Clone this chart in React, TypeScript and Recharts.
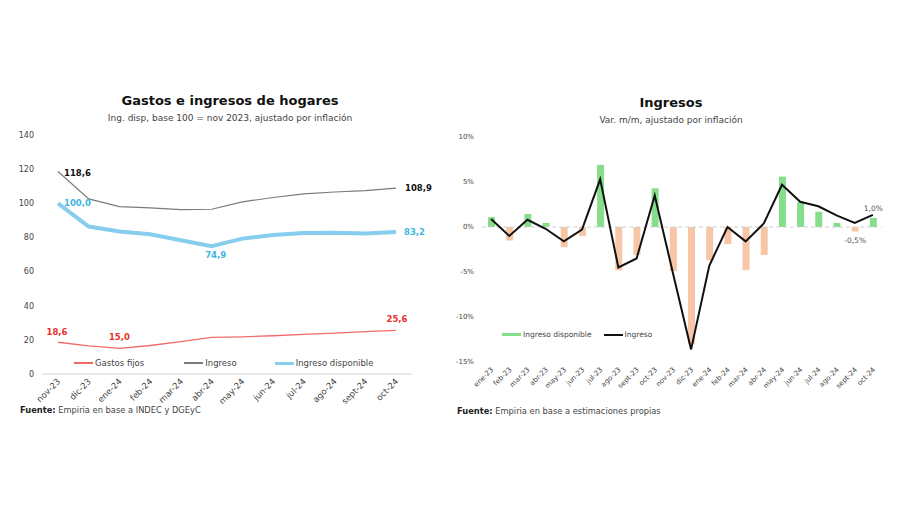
import React from 'react';
import {
  Bar,
  Cell,
  ComposedChart,
  LabelList,
  Legend,
  Line,
  LineChart,
  ReferenceLine,
  XAxis,
  YAxis,
} from 'recharts';

// gastos e ingresos de hogares (base 100 = nov 2023)
const mesesHogares = ['nov-23', 'dic-23', 'ene-24', 'feb-24', 'mar-24', 'abr-24', 'may-24', 'jun-24', 'jul-24', 'ago-24', 'sept-24', 'oct-24'];
const gastosFijos = [18.6, 16.5, 15.0, 16.7, 19.0, 21.4, 21.8, 22.4, 23.2, 24.0, 24.8, 25.6];
const ingreso = [118.6, 102.6, 98.1, 97.3, 96.3, 96.5, 100.8, 103.4, 105.5, 106.6, 107.4, 108.9];
const ingresoDisp = [100.0, 86.4, 83.5, 81.8, 78.4, 74.9, 79.3, 81.4, 82.6, 82.8, 82.3, 83.2];
const ticksHogares = [0, 20, 40, 60, 80, 100, 120, 140];

// ingresos var. m/m
const mesesVar = ['ene-23', 'feb-23', 'mar-23', 'abr-23', 'may-23', 'jun-23', 'jul-23', 'ago-23', 'sept-23', 'oct-23', 'nov-23', 'dic-23', 'ene-24', 'feb-24', 'mar-24', 'abr-24', 'may-24', 'jun-24', 'jul-24', 'ago-24', 'sept-24', 'oct-24'];
const ingresoDispVar = [1.1, -1.5, 1.45, 0.45, -2.25, -1.0, 6.9, -4.8, -3.1, 4.3, -4.9, -13.0, -3.7, -1.9, -4.8, -3.1, 5.6, 2.75, 1.7, 0.45, -0.5, 1.0];
const ingresoVar = [0.9, -1.0, 0.8, -0.2, -1.6, -0.3, 5.3, -4.5, -3.5, 3.5, -5.1, -13.6, -4.3, 0.0, -1.6, 0.4, 4.7, 2.8, 2.3, 1.3, 0.45, 1.35];
const ticksVar = [-15, -10, -5, 0, 5, 10];
const labeledVar = [20, 21];

const hogaresData = mesesHogares.map((m, i) => ({
  mes: m,
  gastos: gastosFijos[i],
  ingreso: ingreso[i],
  disp: ingresoDisp[i],
}));

const varData = mesesVar.map((m, i) => ({
  mes: m,
  disp: ingresoDispVar[i],
  ingreso: ingresoVar[i],
}));

const FONT = '"DejaVu Sans", Verdana, sans-serif';
const RED = '#f26a6a';
const RED_TXT = '#e8312b';
const GRAY = '#7a7a7a';
const BLUE = '#86cdee';
const BLUE_TXT = '#41b5e6';
const GREEN = '#86de8c';
const SALMON = '#f7c6a6';

const fmt = (v: number) => v.toFixed(1).replace('.', ',');

const RotTick = (fontSize: number) => (props: any) => {
  const { x, y, payload } = props;
  return (
    <g transform={`translate(${x},${y})`}>
      <text x={0} y={0} dx={2} dy={2} textAnchor="end" transform="rotate(-45)" fontSize={fontSize} fill="#444" fontFamily={FONT}>
        {payload.value}
      </text>
    </g>
  );
};

// label placement per point index: [dx, dy, anchor]
type Spot = Record<number, [number, number, string]>;
const pointLabel = (spots: Spot, color: string) => (props: any) => {
  const { x, y, value, index } = props;
  const s = spots[index];
  if (!s) return null;
  return (
    <text x={x + s[0]} y={y + s[1]} textAnchor={s[2] as any} fontSize={8.5} fontWeight="bold" fill={color} fontFamily={FONT} dominantBaseline="central">
      {fmt(value)}
    </text>
  );
};

const barLabel = (props: any) => {
  const { x, y, width, height, value, index } = props;
  if (!labeledVar.includes(index)) return null;
  const top = Math.min(y, y + height);
  const bottom = Math.max(y, y + height);
  const cy = value >= 0 ? top - 10 : bottom + 9;
  return (
    <text x={x + width / 2} y={cy} textAnchor="middle" dominantBaseline="central" fontSize={7.5} fill="#555" fontFamily={FONT}>
      {fmt(value)}%
    </text>
  );
};

const LegendItems = (items: { name: string; color: string; w: number; gap: number }[], fontSize: number) => () => (
  <div style={{ display: 'flex', alignItems: 'center', fontFamily: FONT, fontSize, color: '#444', whiteSpace: 'nowrap' }}>
    {items.map((it) => (
      <div key={it.name} style={{ display: 'flex', alignItems: 'center', marginRight: it.gap }}>
        <span style={{ display: 'inline-block', width: 19, height: it.w, background: it.color, marginRight: 2 }} />
        <span>{it.name}</span>
      </div>
    ))}
  </div>
);

const Title = ({ cx, y, text, sub }: { cx: number; y: number; text: string; sub: string }) => (
  <>
    <div style={{ position: 'absolute', left: cx - 200, width: 400, top: y - 9, lineHeight: '18px', textAlign: 'center', fontFamily: FONT, fontWeight: 'bold', fontSize: 13, color: '#111' }}>
      {text}
    </div>
    <div style={{ position: 'absolute', left: cx - 200, width: 400, top: y + 10, lineHeight: '14px', textAlign: 'center', fontFamily: FONT, fontSize: 9, color: '#444' }}>
      {sub}
    </div>
  </>
);

const Fuente = ({ x, y, text }: { x: number; y: number; text: string }) => (
  <div style={{ position: 'absolute', left: x, top: y - 7, lineHeight: '14px', fontFamily: FONT, fontSize: 8.3, color: '#444', whiteSpace: 'nowrap' }}>
    <b style={{ color: '#222' }}>Fuente:</b> {text}
  </div>
);

export default function App() {
  return (
    <div style={{ position: 'absolute', left: 0, top: 0, width: 900, height: 505, background: '#fff', overflow: 'hidden' }}>
      <Title cx={230} y={101} text="Gastos e ingresos de hogares" sub="Ing. disp, base 100 = nov 2023, ajustado por inflación" />
      <Title cx={671} y={103} text="Ingresos" sub="Var. m/m, ajustado por inflación" />

      <div style={{ position: 'absolute', left: 0, top: 0 }}>
        <LineChart width={450} height={430} data={hogaresData} margin={{ top: 135, right: 38, bottom: 16, left: 12 }}>
          <XAxis dataKey="mes" interval={0} height={40} tickLine={false} axisLine={{ stroke: '#d4d4d4' }} padding={{ left: 16, right: 16 }} tick={RotTick(8.5)} />
          <YAxis domain={[0, 140]} ticks={ticksHogares} width={30} tickLine={false} axisLine={false} tick={{ fontSize: 8, fill: '#444', fontFamily: FONT }} />
          <Legend
            verticalAlign="middle"
            align="center"
            content={LegendItems([
              { name: 'Gastos fijos', color: RED, w: 1.5, gap: 40 },
              { name: 'Ingreso', color: GRAY, w: 1.5, gap: 38 },
              { name: 'Ingreso disponible', color: BLUE, w: 3, gap: 0 },
            ], 8.5)}
            wrapperStyle={{ left: 74, top: 358, width: 320, height: 14 }}
          />
          <Line dataKey="gastos" stroke={RED} strokeWidth={1.3} dot={false} isAnimationActive={false}>
            <LabelList dataKey="gastos" content={pointLabel({ 0: [-1, -10, 'middle'], 2: [0, -11, 'middle'], 11: [1, -11, 'middle'] }, RED_TXT)} />
          </Line>
          <Line dataKey="ingreso" stroke={GRAY} strokeWidth={1.2} dot={false} isAnimationActive={false}>
            <LabelList dataKey="ingreso" content={pointLabel({ 0: [6, 1, 'start'], 11: [9, 0, 'start'] }, '#111')} />
          </Line>
          <Line dataKey="disp" stroke={BLUE} strokeWidth={4} dot={false} isAnimationActive={false}>
            <LabelList dataKey="disp" content={pointLabel({ 0: [6, 0, 'start'], 5: [4, 9, 'middle'], 11: [8, 0, 'start'] }, BLUE_TXT)} />
          </Line>
        </LineChart>
      </div>

      <div style={{ position: 'absolute', left: 440, top: 0 }}>
        <ComposedChart width={460} height={430} data={varData} margin={{ top: 137, right: 18, bottom: 28, left: 12 }}>
          <XAxis dataKey="mes" interval={0} height={40} tickLine={false} axisLine={false} tick={RotTick(7)} />
          <YAxis domain={[-15, 10]} ticks={ticksVar} width={30} tickLine={false} axisLine={false} tickFormatter={(v: number) => `${v}%`} tick={{ fontSize: 7, fill: '#444', fontFamily: FONT }} />
          <ReferenceLine y={0} stroke="#cfcfcf" strokeDasharray="4 3" />
          <Legend
            verticalAlign="middle"
            align="center"
            content={LegendItems([
              { name: 'Ingreso disponible', color: GREEN, w: 3, gap: 12 },
              { name: 'Ingreso', color: '#111', w: 2, gap: 0 },
            ], 7.5)}
            wrapperStyle={{ left: 62, top: 330, width: 200, height: 14 }}
          />
          <Bar dataKey="disp" barSize={7} isAnimationActive={false}>
            {varData.map((d, i) => (
              <Cell key={i} fill={d.disp >= 0 ? GREEN : SALMON} />
            ))}
            <LabelList dataKey="disp" content={barLabel} />
          </Bar>
          <Line dataKey="ingreso" stroke="#111" strokeWidth={2} dot={false} isAnimationActive={false} />
        </ComposedChart>
      </div>

      <Fuente x={20} y={410} text="Empiria en base a INDEC y DGEyC" />
      <Fuente x={457} y={411} text="Empiria en base a estimaciones propias" />
    </div>
  );
}
